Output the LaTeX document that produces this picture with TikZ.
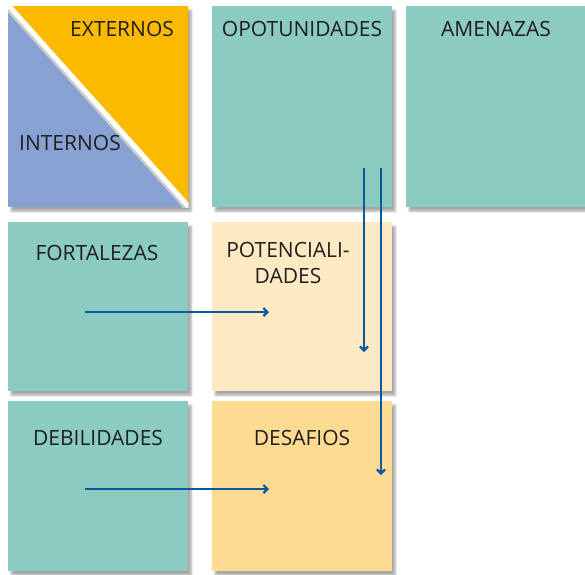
\documentclass[tikz,border=0pt]{standalone}
\usepackage{fontspec}
\setmainfont{Open Sans}
\usetikzlibrary{arrows.meta,shadows.blur}

\definecolor{verde}{HTML}{8CCBC1}
\definecolor{naranja}{HTML}{FBB900}
\definecolor{azulgris}{HTML}{87A1D2}
\definecolor{crema}{HTML}{FDE9C2}
\definecolor{amarillo}{HTML}{FEDB92}
\definecolor{flecha}{HTML}{0A58A0}

\begin{document}
\begin{tikzpicture}[x=1pt,y=-1pt,
    caja/.style={anchor=north west, inner sep=0pt, minimum width=180pt,
        blur shadow={shadow xshift=3pt, shadow yshift=-4pt, shadow opacity=35, shadow blur steps=8}},
    rotulo/.style={font=\fontsize{21}{26}\selectfont, text=black!88, align=center},
    flechaazul/.style={draw=flecha, line width=2.2pt, -{Straight Barb[length=4pt,width=8pt]}}]

\useasboundingbox (0,0) rectangle (585,574);

% fila de arriba
\node[caja, fill=azulgris, minimum height=201pt] (EI) at (8,6) {};
\node[caja, fill=verde, minimum height=201pt] (O) at (212,6) {};
\node[caja, fill=verde, minimum height=201pt] (A) at (406,6) {};

% esquina: externos / internos
\fill[naranja] (EI.north west) -- (EI.north east) -- (EI.south east) -- cycle;
\begin{scope}
\clip (EI.north west) rectangle (EI.south east);
\draw[black!20, line width=7pt] ([xshift=-1pt]EI.north west) -- ([xshift=-1pt]EI.south east);
\draw[white, line width=5pt] ([xshift=1pt]EI.north west) -- ([xshift=1pt]EI.south east);
\end{scope}

% filas de abajo
\node[caja, fill=verde, minimum height=169pt] (F) at (8,222) {};
\node[caja, fill=crema, minimum height=169pt] (P) at (212,222) {};
\node[caja, fill=verde, minimum height=170pt] (D) at (8,401) {};
\node[caja, fill=amarillo, minimum height=170pt] (S) at (212,401) {};

% rotulos
\node[rotulo] (tE) at (122,29) {EXTERNOS};
\node[rotulo] (tI) at (70,143) {INTERNOS};
\node[rotulo] (tO) at (302,29) {OPOTUNIDADES};
\node[rotulo] (tA) at (496,29) {AMENAZAS};
\node[rotulo] (tF) at (97,253) {FORTALEZAS};
\node[rotulo] (tP) at (288,263) {POTENCIALI-\\DADES};
\node[rotulo] (tD) at (98,438) {DEBILIDADES};
\node[rotulo] (tS) at (302,438) {DESAFIOS};

% flechas
\coordinate (f1) at (85,312);
\coordinate (p1) at (269,312);
\coordinate (d1) at (85,489);
\coordinate (s1) at (269,489);
\coordinate (o1) at (364,168);
\coordinate (p2) at (364,352);
\coordinate (o2) at (381,168);
\coordinate (s2) at (381,475);

\foreach \a/\b in {f1/p1, d1/s1, o1/p2, o2/s2}
    \draw[flechaazul] (\a) -- (\b);

\end{tikzpicture}
\end{document}
